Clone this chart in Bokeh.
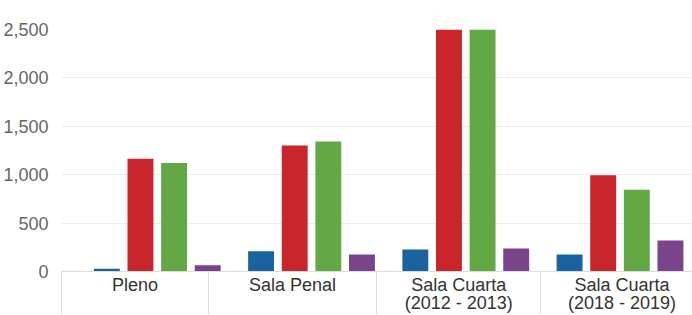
from bokeh.plotting import figure
from bokeh.models import ColumnDataSource, Range1d, FixedTicker, NumeralTickFormatter, LinearAxis
from bokeh.transform import dodge
from bokeh.embed import file_html
from bokeh.resources import INLINE

# ---- data ----
categories = ["Pleno", "Sala Penal", "Sala Cuarta\n(2012 - 2013)", "Sala Cuarta\n(2018 - 2019)"]
serie_azul = [28, 210, 227, 176]
serie_roja = [1165, 1302, 2500, 995]
serie_verde = [1121, 1343, 2500, 845]
serie_morada = [65, 176, 238, 320]
y_ticks = [0, 500, 1000, 1500, 2000, 2500]

# ---- layout (not data) ----
colors = ["#1a639e", "#c8262a", "#62a946", "#7a448a"]
offsets = [-0.327, -0.109, 0.109, 0.327]
bar_w = 0.168
cell_edges = [-0.618, 0.33, 1.424, 2.485, 3.54]

idx = list(range(len(categories)))
src = ColumnDataSource(dict(x=idx, azul=serie_azul, roja=serie_roja,
                            verde=serie_verde, morada=serie_morada))

p = figure(width=692, height=315, output_backend="svg", toolbar_location=None,
           x_range=Range1d(-0.621, 3.470), y_range=Range1d(0, 2500),
           min_border_left=60, min_border_right=0, min_border_top=29,
           min_border_bottom=43, x_axis_location=None)
p.outline_line_color = None
p.background_fill_color = "white"
p.border_fill_color = "white"

for col, off, c in zip(["azul", "roja", "verde", "morada"], offsets, colors):
    p.vbar(x=dodge("x", off), top=col, width=bar_w, source=src,
           fill_color=c, line_color=None)

# y axis
yax = p.yaxis[0]
yax.ticker = FixedTicker(ticks=y_ticks)
yax.formatter = NumeralTickFormatter(format="0,0")
yax.axis_line_color = None
yax.major_tick_line_color = None
yax.minor_tick_line_color = None
yax.major_label_standoff = 7
yax.major_label_text_font = "Liberation Sans"
yax.major_label_text_font_size = "18px"
yax.major_label_text_color = "#666666"

p.xgrid.grid_line_color = None
p.ygrid.ticker = FixedTicker(ticks=y_ticks)
p.ygrid.grid_line_color = "#ececec"

# x axis: label cells with separators
mids = [(cell_edges[i] + cell_edges[i + 1]) / 2 for i in range(len(categories))]
xax = LinearAxis(ticker=FixedTicker(ticks=mids, minor_ticks=cell_edges))
xax.major_label_overrides = {m: lab for m, lab in zip(mids, categories)}
xax.axis_line_color = "#dddddd"
xax.major_tick_line_color = None
xax.major_tick_out = 0
xax.major_tick_in = 0
xax.minor_tick_line_color = "#dddddd"
xax.minor_tick_out = 43
xax.minor_tick_in = 0
xax.major_label_standoff = -40
xax.major_label_text_font = "Liberation Sans"
xax.major_label_text_font_size = "18px"
xax.major_label_text_color = "#333333"
xax.major_label_text_line_height = 0.9
p.add_layout(xax, "below")

open("out.html", "w").write(file_html(p, INLINE))
